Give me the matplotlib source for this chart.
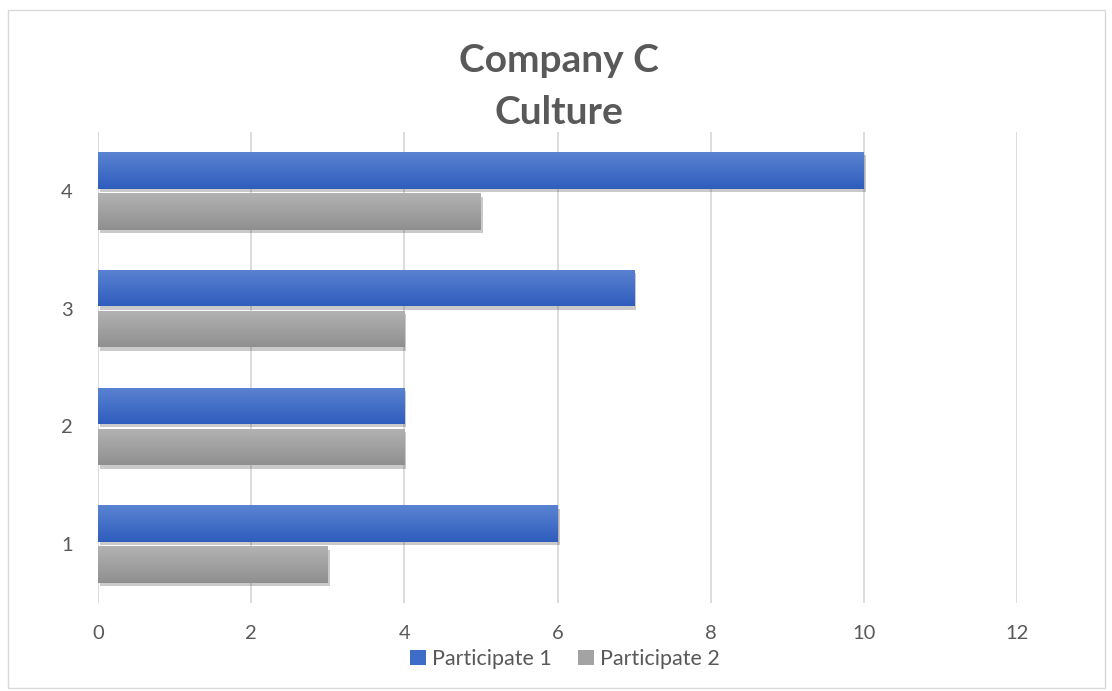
import numpy as np
import matplotlib
matplotlib.use("Agg")
from matplotlib import pyplot as plt
from matplotlib import patheffects as pe
from matplotlib.patches import Rectangle
from matplotlib.colors import LinearSegmentedColormap

categories = ["1", "2", "3", "4"]
participate1 = [6, 4, 7, 10]
participate2 = [3, 4, 4, 5]
series_names = ["Participate 1", "Participate 2"]
xticks = [0, 2, 4, 6, 8, 10, 12]

BLUE = "#3d6cc9"
GRAY = "#a3a3a3"
TEXT = "#595959"

plt.rcParams['font.family'] = ['Lato', 'DejaVu Sans']

fig = plt.figure(figsize=(11.12, 6.91), dpi=100)
ax = fig.add_axes([98 / 1112, 1 - 603 / 691, (1017 - 98) / 1112, (603 - 132) / 691])

y = np.arange(1, len(categories) + 1)
h = 0.31
shadow = [pe.SimplePatchShadow(offset=(1.5, -2.5), shadow_rgbFace="#444444", alpha=0.28), pe.Normal()]
b1 = ax.barh(y + 0.175, participate1, height=h, color=BLUE, label=series_names[0], zorder=3)
b2 = ax.barh(y - 0.175, participate2, height=h, color=GRAY, label=series_names[1], zorder=3)

# gradient fill, lighter on top like the office style
grad = np.linspace(0, 1, 64).reshape(-1, 1)
cm_blue = LinearSegmentedColormap.from_list("b", ["#2f5dbd", "#5b83d2"])
cm_gray = LinearSegmentedColormap.from_list("g", ["#8f8f8f", "#b3b3b3"])
for bars, cm in [(b1, cm_blue), (b2, cm_gray)]:
    for b in bars:
        b.set_path_effects(shadow)
        x0, y0 = b.get_x(), b.get_y()
        im = ax.imshow(grad, cmap=cm, aspect="auto", origin="lower", zorder=4,
                       extent=[x0, x0 + b.get_width(), y0, y0 + b.get_height()])
        im.set_clip_path(b)

ax.set_xlim(0, 12)
ax.set_ylim(0.5, 4.5)
ax.set_xticks(xticks)
ax.set_yticks(y)
ax.set_yticklabels(categories)
ax.grid(axis="x", color="#d9d9d9", linewidth=1.3, zorder=0)
ax.tick_params(length=0, labelsize=14.5, labelcolor=TEXT, pad=16)
ax.tick_params(axis="y", pad=18)
for s in ax.spines.values():
    s.set_visible(False)

fig.text(0.503, 1 - 60 / 691, "Company C", ha="center", va="center",
         fontsize=28, fontweight="bold", color=TEXT)
fig.text(0.503, 1 - 112 / 691, "Culture", ha="center", va="center",
         fontsize=28, fontweight="bold", color=TEXT)

leg = fig.legend(handles=[b1, b2], loc="center", bbox_to_anchor=(0.508, 1 - 659 / 691),
                 ncol=2, frameon=False, fontsize=15.5, handlelength=0.75, handleheight=0.75,
                 handletextpad=0.3, columnspacing=1.2)
for t in leg.get_texts():
    t.set_color(TEXT)
for hnd in leg.legend_handles:
    hnd.set_path_effects([])

fig.patches.append(Rectangle((8 / 1112, 3 / 691), 1097 / 1112, 678 / 691, transform=fig.transFigure,
                             fill=False, edgecolor="#d9d9d9", linewidth=1))

fig.savefig("out.png", dpi=100)
